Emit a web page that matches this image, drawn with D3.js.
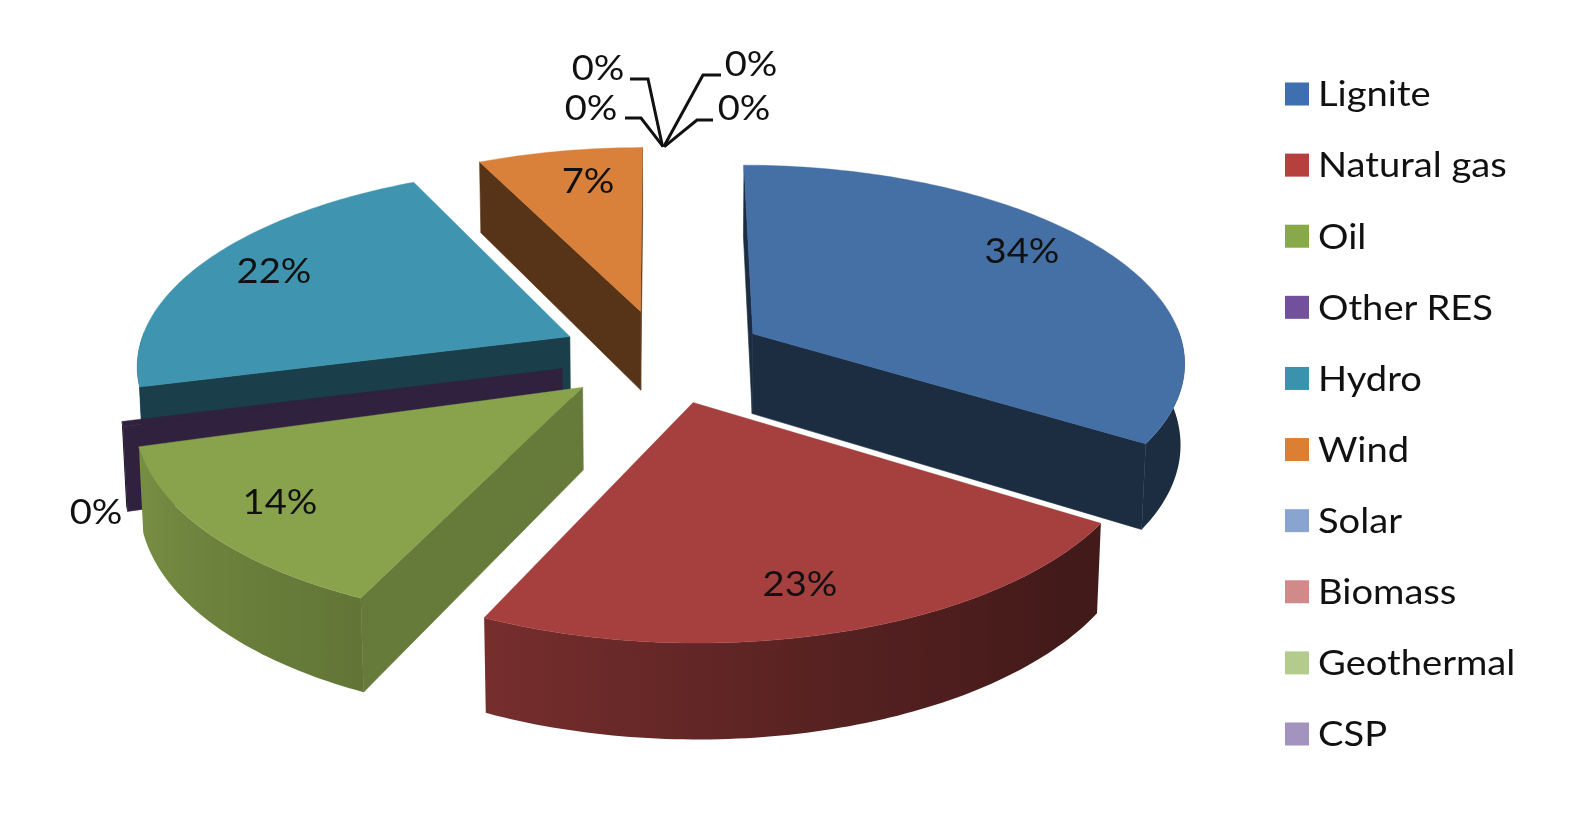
<!DOCTYPE html>
<html><head><meta charset="utf-8">
<script src="https://cdn.jsdelivr.net/npm/d3@7"></script>
<style>html,body{margin:0;padding:0;background:#fff}svg{display:block}text{font-family:Lato,"Open Sans",sans-serif;fill:#111}</style>
</head><body><svg id="c" width="1595" height="831"></svg>
<script>
const categories=["Lignite","Natural gas","Oil","Other RES","Hydro","Wind","Solar","Biomass","Geothermal","CSP"];
const shares=[34.0,22.85,13.6,0.4,22.0,7.1,0.02,0.02,0.02,0.02];
const topColors=["#4570a6","#a5403f","#88a34c","#30213f","#3f95b0","#d9813a","#8aa4d0","#d08a8a","#b3cb8c","#a294be"];
const legendColors=["#3f6fae","#b5403e","#87a94a","#72509b","#3a92ad","#dd7f33","#8aa4d0","#d08a8a","#b3cb8c","#a294be"];
const cutWallShade=[.4,.4,.75,1,.42,.4,.4,.4,.4,.4];

const svg=d3.select("#c");
const defs=svg.append("defs");
const root=svg.append("g").style("filter","blur(0.5px)");
const rad=Math.PI/180;
// perspective model of the tilted pie
const C={x:663,y:356,R:433,kR:196,h:81,p:.13,q:.008,E:.24};
function proj(X,Y,Z){const w=1-C.p*Y;return [C.x+X*C.R/(w+C.q*Z),C.y+(Y*C.kR+Z*C.h)/w];}
const pie=d3.pie().sort(null).value(d=>d).startAngle(.2*rad).endAngle(360.2*rad);
const arcs=pie(shares).map((a,i)=>{
  const mid=(a.startAngle+a.endAngle)/2;
  return {i,a0:a.startAngle,a1:a.endAngle,mid,ox:C.E*Math.sin(mid),oy:-C.E*Math.cos(mid)};
});
const rim=(s,t,Z)=>proj(s.ox+Math.sin(t),s.oy-Math.cos(t),Z);
const apex=(s,Z)=>proj(s.ox,s.oy,Z);
const line=d3.line();
const rimShade=d3.scaleLinear().domain([0,130,160,205,253,254,360]).range([.4,.4,.5,.72,.88,.42,.42]).clamp(true);
function shade(col,f){const c=d3.rgb(col);return d3.rgb(c.r*f,c.g*f,c.b*f).formatHex();}

function drawQuad(q,fill){root.append("path").attr("d",line(q)+"Z").attr("fill",fill).attr("stroke",fill).attr("stroke-width",.6);}
[...arcs].sort((a,b)=>a.oy-b.oy).forEach(s=>{
  if(s.a1-s.a0<0.002) return;
  const col=topColors[s.i];
  const ts=d3.range(s.a0,s.a1,1*rad).concat([s.a1]);
  // cut walls: start edge and end edge, kept only when they face the viewer
  [[s.a0,1],[s.a1,-1]].forEach(([t,dir])=>{
    const q=[apex(s,0),rim(s,t,0),rim(s,t,1),apex(s,1)];
    if(d3.polygonArea(q)*dir>0) drawQuad(q,shade(col,cutWallShade[s.i]));
  });
  // outer wall: the rim part that faces the viewer, with a shading ramp along x
  const vis=ts.filter(a=>a/rad>=88&&a/rad<=272);
  if(vis.length>1){
    const id="wall"+s.i;
    const x0=rim(s,vis[0],0)[0],x1=rim(s,vis[vis.length-1],0)[0];
    const g=defs.append("linearGradient").attr("id",id).attr("gradientUnits","userSpaceOnUse")
      .attr("x1",x0).attr("x2",x1).attr("y1",0).attr("y2",0);
    vis.forEach(a=>g.append("stop").attr("offset",Math.max(0,Math.min(1,(rim(s,a,0)[0]-x0)/(x1-x0))))
      .attr("stop-color",shade(col,rimShade(a/rad))));
    const poly=vis.map(a=>rim(s,a,0)).concat(vis.slice().reverse().map(a=>rim(s,a,1)));
    root.append("path").attr("d",line(poly)+"Z").attr("fill",`url(#${id})`);
  }
  // top face
  const top=[apex(s,0)].concat(ts.map(t=>rim(s,t,0)));
  root.append("path").attr("d",line(top)+"Z").attr("fill",col).attr("stroke",col).attr("stroke-width",.4);
});

// data labels
const labelFont=35, stretch=1.09;
const putText=(x,y,anchor,txt)=>root.append("text").attr("transform",`translate(${x},${y}) scale(${stretch},1)`)
  .attr("text-anchor",anchor).attr("dominant-baseline","central").attr("font-size",labelFont).text(txt);
const labelPos={0:[1022,250],1:[800,583],2:[280,501],3:[96,511],4:[274,270],5:[588,180],6:[598,67],7:[591,107],8:[751,63],9:[744,107]};
arcs.forEach(s=>putText(labelPos[s.i][0],labelPos[s.i][1],"middle",Math.round(shares[s.i])+"%"));
// leader lines for the four near-zero slices
const elbows={6:[[630,79],[648,79]],7:[[625,118],[641,118]],8:[[721,75],[703,75]],9:[[713,120],[697,120]]};
arcs.filter(s=>elbows[s.i]).forEach(s=>{
  const m=(s.a0+s.a1)/2;
  root.append("path").attr("d",line(elbows[s.i].concat([rim(s,m,0)])))
    .attr("fill","none").attr("stroke","#111").attr("stroke-width",3);
});

// legend
const legendY=d3.scalePoint().domain(categories).range([94,734]);
categories.forEach((c,i)=>{
  const y=legendY(c);
  root.append("rect").attr("x",1285).attr("y",y-11.5).attr("width",24).attr("height",23).attr("fill",legendColors[i]);
  putText(1318,y-1,"start",c);
});
</script></body></html>
